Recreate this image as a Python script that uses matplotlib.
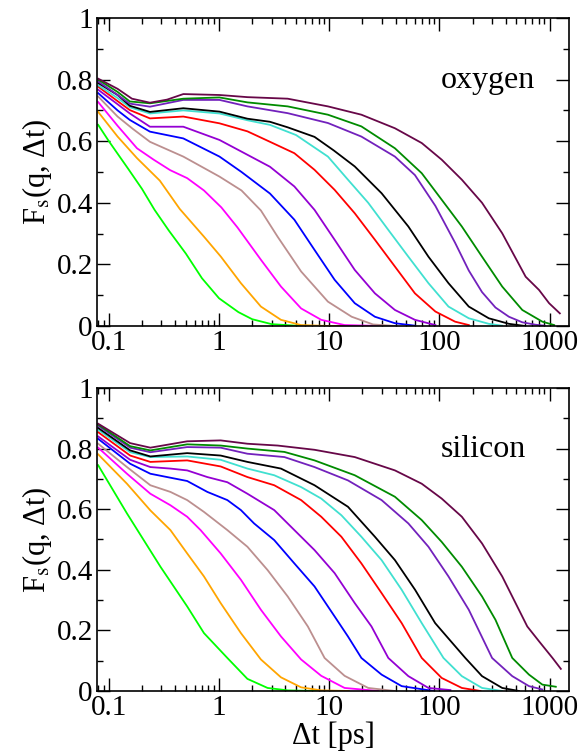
import matplotlib
matplotlib.use('Agg')
from matplotlib import pyplot as plt
from matplotlib.ticker import LogLocator, NullFormatter, MultipleLocator

plt.rcParams['font.family'] = ['Liberation Serif', 'DejaVu Serif']
plt.rcParams['mathtext.fontset'] = 'stix'

colors = ['#00ff00', '#ffa500', '#ff00ff', '#bc8f8f', '#0000ff', '#9400d3',
          '#ff0000', '#40e0d0', '#000000', '#7221bc', '#008b00', '#670748']

x_ticks = [0.1, 1, 10, 100, 1000]
x_ticklabels = ['0.1', '1', '10', '100', '1000']
y_ticks = [0, 0.2, 0.4, 0.6, 0.8, 1.0]
y_ticklabels = ['0', '0.2', '0.4', '0.6', '0.8', '1']

# ---- oxygen ----
ox_green_t = [0.08, 0.1, 0.15, 0.2, 0.26, 0.35, 0.5, 0.7, 1.0, 1.5, 2.0, 3.0, 5.0, 8.0, 15]
ox_green_f = [0.653, 0.60, 0.51, 0.445, 0.377, 0.31, 0.235, 0.155, 0.09, 0.045, 0.022, 0.006, 0.001, 0.0, 0.0]
ox_orange_t = [0.08, 0.12, 0.18, 0.29, 0.44, 0.73, 1.04, 1.58, 2.4, 3.65, 5.55, 10, 15]
ox_orange_f = [0.695, 0.615, 0.545, 0.472, 0.38, 0.29, 0.225, 0.139, 0.063, 0.02, 0.003, 0.0, 0.0]
ox_magenta_t = [0.08, 0.12, 0.18, 0.255, 0.36, 0.514, 0.73, 1.05, 1.47, 2.4, 3.65, 5.56, 8.47, 13.8, 30]
ox_magenta_f = [0.727, 0.65, 0.577, 0.54, 0.506, 0.48, 0.44, 0.385, 0.32, 0.215, 0.128, 0.057, 0.02, 0.003, 0.0]
ox_tan_t = [0.08, 0.12, 0.165, 0.236, 0.474, 1.01, 1.6, 2.4, 3.4, 5.56, 9.74, 16, 25, 40]
ox_tan_f = [0.745, 0.68, 0.64, 0.598, 0.55, 0.485, 0.44, 0.375, 0.29, 0.177, 0.079, 0.03, 0.005, 0.0]
ox_blue_t = [0.08, 0.12, 0.155, 0.236, 0.474, 1.01, 1.6, 2.9, 4.83, 7.36, 11.2, 17.06, 26, 39.5, 60]
ox_blue_f = [0.756, 0.70, 0.669, 0.631, 0.609, 0.55, 0.50, 0.43, 0.345, 0.247, 0.15, 0.074, 0.03, 0.009, 0.001]
ox_violet_t = [0.08, 0.12, 0.155, 0.236, 0.474, 1.01, 2.9, 4.83, 7.36, 11.2, 17.06, 26, 39.5, 60, 92]
ox_violet_f = [0.767, 0.72, 0.69, 0.647, 0.647, 0.604, 0.517, 0.453, 0.377, 0.28, 0.182, 0.106, 0.052, 0.02, 0.003]
ox_red_t = [0.08, 0.12, 0.155, 0.236, 0.474, 1.01, 1.81, 2.9, 4.83, 7.36, 11.2, 17.06, 26, 39.5, 60, 92, 139, 185]
ox_red_f = [0.777, 0.73, 0.701, 0.674, 0.68, 0.658, 0.632, 0.598, 0.561, 0.507, 0.442, 0.366, 0.28, 0.193, 0.106, 0.047, 0.014, 0.003]
ox_turq_t = [0.08, 0.12, 0.155, 0.236, 0.474, 1.01, 1.81, 2.9, 5.0, 9.74, 14.8, 22.6, 34.4, 52.3, 79.6, 121, 185, 281, 372]
ox_turq_f = [0.782, 0.74, 0.71, 0.69, 0.70, 0.69, 0.668, 0.653, 0.62, 0.55, 0.475, 0.40, 0.312, 0.225, 0.139, 0.063, 0.025, 0.007, 0.001]
ox_black_t = [0.08, 0.12, 0.155, 0.236, 0.474, 1.01, 1.81, 2.9, 4.2, 7.36, 11, 17.06, 29.9, 52.3, 79.6, 121, 185, 281, 428, 600]
ox_black_f = [0.789, 0.75, 0.715, 0.695, 0.707, 0.696, 0.673, 0.663, 0.645, 0.614, 0.57, 0.518, 0.431, 0.323, 0.225, 0.139, 0.063, 0.025, 0.007, 0.0]
ox_purple_t = [0.08, 0.12, 0.155, 0.236, 0.474, 1.01, 1.81, 4.2, 9.74, 19.6, 39.5, 60, 92, 139, 185, 244, 323, 428, 566, 749, 900]
ox_purple_f = [0.794, 0.75, 0.722, 0.712, 0.734, 0.734, 0.713, 0.691, 0.659, 0.615, 0.55, 0.49, 0.39, 0.27, 0.18, 0.11, 0.06, 0.03, 0.012, 0.004, 0.001]
ox_dgreen_t = [0.08, 0.12, 0.155, 0.236, 0.474, 1.01, 1.81, 4.2, 9.74, 19.6, 39.5, 69.2, 105, 160, 244, 372, 566, 861, 1101]
ox_dgreen_f = [0.80, 0.76, 0.729, 0.723, 0.738, 0.742, 0.726, 0.713, 0.686, 0.648, 0.577, 0.496, 0.41, 0.323, 0.225, 0.128, 0.052, 0.014, 0.003]
ox_maroon_t = [0.08, 0.12, 0.162, 0.236, 0.338, 0.474, 1.01, 1.81, 4.2, 9.74, 19.6, 39.5, 69.2, 105, 160, 244, 372, 607, 803, 991, 1241]
ox_maroon_f = [0.803, 0.77, 0.738, 0.725, 0.735, 0.753, 0.75, 0.743, 0.738, 0.713, 0.686, 0.642, 0.594, 0.54, 0.475, 0.40, 0.301, 0.16, 0.117, 0.074, 0.041]

# ---- silicon ----
si_green_t = [0.08, 0.146, 0.294, 0.514, 0.73, 1.19, 1.81, 2.76, 4.2, 7.36, 15]
si_green_f = [0.745, 0.586, 0.41, 0.279, 0.191, 0.109, 0.04, 0.01, 0.002, 0.0, 0.0]
si_orange_t = [0.08, 0.146, 0.238, 0.362, 0.514, 0.73, 1.035, 1.58, 2.4, 3.65, 5.56, 8.47, 15]
si_orange_f = [0.781, 0.684, 0.596, 0.531, 0.454, 0.378, 0.29, 0.191, 0.104, 0.045, 0.012, 0.002, 0.0]
si_magenta_t = [0.08, 0.146, 0.238, 0.362, 0.514, 0.68, 1.035, 1.58, 2.4, 3.65, 5.56, 8.47, 13.8, 27.9]
si_magenta_f = [0.803, 0.717, 0.651, 0.613, 0.575, 0.531, 0.454, 0.367, 0.268, 0.18, 0.104, 0.05, 0.01, 0.0]
si_tan_t = [0.08, 0.146, 0.238, 0.362, 0.514, 0.73, 1.19, 1.81, 2.76, 4.2, 6.4, 9.08, 13.8, 22.6, 39.5]
si_tan_f = [0.816, 0.739, 0.679, 0.657, 0.63, 0.591, 0.531, 0.476, 0.399, 0.312, 0.213, 0.109, 0.05, 0.01, 0.0]
si_blue_t = [0.08, 0.156, 0.238, 0.338, 0.514, 0.783, 1.19, 1.58, 2.08, 3.17, 4.83, 7.36, 11.2, 14.8, 19.6, 29.9, 45.5, 88.5]
si_blue_f = [0.832, 0.75, 0.717, 0.706, 0.693, 0.657, 0.63, 0.597, 0.553, 0.498, 0.421, 0.345, 0.246, 0.18, 0.109, 0.054, 0.016, 0.0]
si_violet_t = [0.08, 0.156, 0.238, 0.362, 0.514, 0.783, 1.19, 1.81, 3.17, 4.83, 7.36, 11.2, 17.06, 24.2, 34.4, 52.3, 79.6, 126]
si_violet_f = [0.84, 0.763, 0.739, 0.734, 0.728, 0.706, 0.689, 0.651, 0.597, 0.531, 0.465, 0.389, 0.29, 0.213, 0.109, 0.049, 0.01, 0.003]
si_red_t = [0.08, 0.156, 0.238, 0.514, 1.035, 1.81, 3.17, 5.56, 8.47, 12.9, 19.6, 29.9, 45.5, 69.2, 105, 160, 236]
si_red_f = [0.854, 0.777, 0.756, 0.761, 0.741, 0.706, 0.679, 0.63, 0.575, 0.509, 0.421, 0.323, 0.224, 0.109, 0.043, 0.01, 0.0]
si_turq_t = [0.08, 0.156, 0.238, 0.514, 1.035, 1.81, 3.17, 5.56, 8.47, 12.9, 19.6, 29.9, 45.5, 69.2, 109, 160, 244, 372]
si_turq_f = [0.862, 0.788, 0.772, 0.774, 0.763, 0.734, 0.712, 0.673, 0.635, 0.58, 0.509, 0.432, 0.334, 0.224, 0.109, 0.049, 0.01, 0.0]
si_black_t = [0.08, 0.156, 0.238, 0.514, 1.035, 1.81, 3.65, 7.36, 14.8, 26, 39.5, 60.2, 91.6, 172, 244, 372, 528]
si_black_f = [0.868, 0.794, 0.774, 0.785, 0.777, 0.756, 0.734, 0.679, 0.608, 0.509, 0.432, 0.334, 0.224, 0.109, 0.049, 0.01, 0.0]
si_purple_t = [0.08, 0.156, 0.238, 0.514, 1.035, 1.81, 3.92, 7.36, 14.8, 29.9, 52.3, 79.6, 121, 185, 301, 459, 651, 861]
si_purple_f = [0.875, 0.803, 0.788, 0.805, 0.803, 0.783, 0.772, 0.739, 0.695, 0.63, 0.553, 0.476, 0.378, 0.268, 0.109, 0.049, 0.016, 0.005]
si_dgreen_t = [0.08, 0.156, 0.238, 0.514, 1.035, 1.81, 3.92, 7.36, 17.06, 39.5, 69.2, 105, 160, 244, 323, 459, 651, 861, 1140]
si_dgreen_f = [0.879, 0.808, 0.794, 0.814, 0.81, 0.80, 0.789, 0.761, 0.712, 0.641, 0.564, 0.492, 0.41, 0.312, 0.235, 0.109, 0.054, 0.021, 0.014]
si_maroon_t = [0.08, 0.156, 0.238, 0.514, 1.035, 1.81, 3.41, 7.36, 17.06, 39.5, 69.2, 105, 160, 244, 372, 628, 803, 1064, 1267]
si_maroon_f = [0.882, 0.818, 0.803, 0.824, 0.827, 0.816, 0.81, 0.796, 0.772, 0.728, 0.684, 0.635, 0.575, 0.487, 0.378, 0.213, 0.164, 0.109, 0.073]

oxygen = [(ox_green_t, ox_green_f), (ox_orange_t, ox_orange_f), (ox_magenta_t, ox_magenta_f),
          (ox_tan_t, ox_tan_f), (ox_blue_t, ox_blue_f), (ox_violet_t, ox_violet_f),
          (ox_red_t, ox_red_f), (ox_turq_t, ox_turq_f), (ox_black_t, ox_black_f),
          (ox_purple_t, ox_purple_f), (ox_dgreen_t, ox_dgreen_f), (ox_maroon_t, ox_maroon_f)]
silicon = [(si_green_t, si_green_f), (si_orange_t, si_orange_f), (si_magenta_t, si_magenta_f),
           (si_tan_t, si_tan_f), (si_blue_t, si_blue_f), (si_violet_t, si_violet_f),
           (si_red_t, si_red_f), (si_turq_t, si_turq_f), (si_black_t, si_black_f),
           (si_purple_t, si_purple_f), (si_dgreen_t, si_dgreen_f), (si_maroon_t, si_maroon_f)]

fig = plt.figure(figsize=(5.87, 7.56), dpi=100)
ax_top = fig.add_axes([0.1652, 0.5688, 0.804, 0.4074])
ax_bot = fig.add_axes([0.1652, 0.086, 0.804, 0.4008])

for ax, curves, name in [(ax_top, oxygen, 'oxygen'), (ax_bot, silicon, 'silicon')]:
    for (t, f), c in zip(curves, colors):
        ax.plot(t, f, color=c, lw=1.3)
    ax.set_xscale('log')
    ax.set_xlim(0.078, 1500)
    ax.set_ylim(0, 1)
    ax.set_xticks(x_ticks)
    ax.set_xticklabels(x_ticklabels)
    ax.xaxis.set_minor_locator(LogLocator(base=10, subs=range(2, 10), numticks=20))
    ax.xaxis.set_minor_formatter(NullFormatter())
    ax.set_yticks(y_ticks)
    ax.set_yticklabels(y_ticklabels)
    ax.yaxis.set_minor_locator(MultipleLocator(0.1))
    ax.tick_params(which='both', direction='in', top=True, right=True, labelsize=21, width=1.0)
    ax.tick_params(which='major', length=9.5, pad=3)
    ax.tick_params(which='minor', length=4.5)
    for s in ax.spines.values():
        s.set_linewidth(1.2)
    ax.set_ylabel('F$_{\\mathrm{s}}$(q, \u0394t)', fontsize=22, labelpad=2)
    ax.text(0.729, 0.773, name, transform=ax.transAxes, fontsize=23, ha='left', va='baseline')

ax_bot.set_xlabel('\u0394t [ps]', fontsize=22, labelpad=0)

fig.savefig('out.png', dpi=100)
